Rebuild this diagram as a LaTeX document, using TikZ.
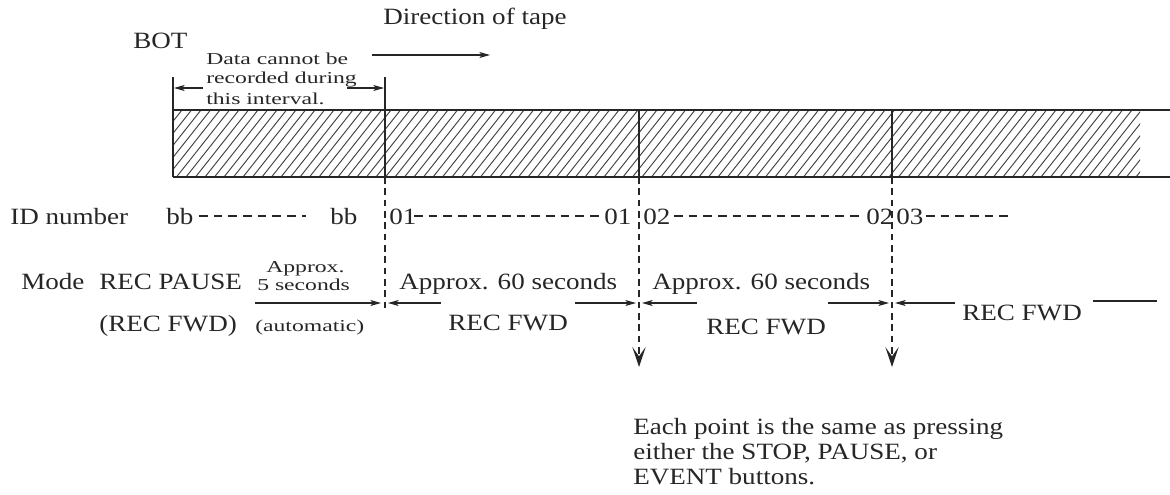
\documentclass[tikz,border=0pt]{standalone}
\usepackage{fontspec}
\setmainfont{Liberation Serif}
\newfontfamily\mainf[FakeStretch=1.16]{Liberation Serif}
\newfontfamily\smallf[FakeStretch=1.42]{Liberation Serif}
\usetikzlibrary{arrows.meta}
\begin{document}
\begin{tikzpicture}[x=0.75pt,y=-0.75pt,
  lbl/.style={inner sep=0pt, text=black!85, font=\mainf\fontsize{17.5}{21}\selectfont},
  sml/.style={inner sep=0pt, text=black!85, font=\smallf\fontsize{12.5}{15}\selectfont},
  arr/.style={draw=black!85, line width=0.8pt, -{Stealth[length=8pt,width=4.5pt,inset=2pt]}},
  plain/.style={draw=black!85, line width=0.8pt},
  tape/.style={draw=black!85, line width=1pt},
  hatch/.style={draw=black!75, line width=0.7pt},
  vdash/.style={draw=black!85, line width=0.8pt, dash pattern=on 5pt off 3.5pt},
  iddash/.style={draw=black!85, line width=0.9pt, dash pattern=on 6.5pt off 4.5pt},
  ptarrow/.style={draw=black!85, line width=0.8pt, dash pattern=on 5pt off 3.5pt, -{Stealth[length=15pt,width=10pt,inset=7pt]}}
]
\useasboundingbox (0,0) rectangle (1170,494);

% --- top annotations
\node[lbl, anchor=base west] (dir) at (383,24) {Direction of tape};
\coordinate (dirA) at (372,55);
\coordinate (dirB) at (490,55);
\draw[arr] (dirA) -- (dirB);
\node[lbl, anchor=base west] (bot) at (133,48) {BOT};
\node[sml, anchor=base west] (nd1) at (206,64) {Data cannot be};
\node[sml, anchor=base west] (nd2) at (206,83) {recorded during};
\node[sml, anchor=base west] (nd3) at (206,104) {this interval.};

% --- tape
\coordinate (tTL) at (173,110);
\coordinate (tTR) at (1170,110);
\coordinate (tBL) at (173,177);
\coordinate (tBR) at (1170,177);
\begin{scope}
  \clip (173,110) rectangle (1140,177);
  \foreach \i in {0,...,110}{
    \draw[hatch] (110+\i*9.5,177) -- (163+\i*9.5,110);
  }
\end{scope}
\draw[tape] (tTL) -- (tTR);
\draw[tape] (tBL) -- (tBR);
\coordinate (bL) at (173,77);
\coordinate (bR) at (385,77);
\coordinate (d1) at (385,177);
\draw[tape] (bL) -- (tBL);
\draw[tape] (bR) -- (d1);
\coordinate (d2t) at (639,110);
\coordinate (d2) at (639,177);
\coordinate (d3t) at (892,110);
\coordinate (d3) at (892,177);
\draw[tape] (d2t) -- (d2);
\draw[tape] (d3t) -- (d3);

% interval arrows
\coordinate (iaL) at (203,88);
\coordinate (iaLt) at (174,88);
\coordinate (iaR) at (347,88);
\coordinate (iaRt) at (384,88);
\draw[arr] (iaL) -- (iaLt);
\draw[arr] (iaR) -- (iaRt);

% --- dashed markers
\coordinate (m1) at (385,312);
\coordinate (m2) at (639,367);
\coordinate (m3) at (892,367);
\draw[vdash] (d1) -- (m1);
\draw[ptarrow] (d2) -- (m2);
\draw[ptarrow] (d3) -- (m3);

% --- ID number row
\node[lbl, anchor=base west] (idlbl) at (10,224) {ID number};
\node[lbl, anchor=base west] (bb1) at (166,224) {bb};
\node[lbl, anchor=base west] (bb2) at (330,224) {bb};
\node[lbl, anchor=base west] (n01a) at (389,224) {01};
\node[lbl, anchor=base west] (n01b) at (604,224) {01};
\node[lbl, anchor=base west] (n02a) at (643,224) {02};
\node[lbl, anchor=base west] (n02b) at (866,224) {02};
\node[lbl, anchor=base west] (n03) at (896,224) {03};
\coordinate (s1) at (199,216); \coordinate (e1) at (306,216);
\coordinate (s2) at (414,216); \coordinate (e2) at (600,216);
\coordinate (s3) at (674,216); \coordinate (e3) at (864,216);
\coordinate (s4) at (926,216); \coordinate (e4) at (1010,216);
\draw[iddash] (s1) -- (e1);
\draw[iddash] (s2) -- (e2);
\draw[iddash] (s3) -- (e3);
\draw[iddash] (s4) -- (e4);

% --- Mode row
\node[lbl, anchor=base west] (mode) at (21,289) {Mode};
\node[lbl, anchor=base west] (recp) at (99,289) {REC PAUSE};
\node[lbl, anchor=base west] (recf0) at (99,331) {(REC FWD)};
\node[sml, anchor=base west] (appr5) at (266,272) {Approx.};
\node[sml, anchor=base west] (sec5) at (257,290) {5 seconds};
\node[sml, anchor=base west] (auto) at (255,331) {(automatic)};
\coordinate (a5s) at (255,303);
\coordinate (a5e) at (381,303);
\draw[arr] (a5s) -- (a5e);

\node[lbl, anchor=base west] (ap60a) at (399,289) {Approx. 60 seconds};
\node[lbl, anchor=base west] (rf1) at (448,330) {REC FWD};
\coordinate (l1s) at (441,303);
\coordinate (l1e) at (388,303);
\coordinate (r1s) at (575,303);
\coordinate (r1e) at (636,303);
\draw[arr] (l1s) -- (l1e);
\draw[arr] (r1s) -- (r1e);

\node[lbl, anchor=base west] (ap60b) at (652,289) {Approx. 60 seconds};
\node[lbl, anchor=base west] (rf2) at (706,334) {REC FWD};
\coordinate (l2s) at (697,303);
\coordinate (l2e) at (642,303);
\coordinate (r2s) at (828,303);
\coordinate (r2e) at (889,303);
\draw[arr] (l2s) -- (l2e);
\draw[arr] (r2s) -- (r2e);

\node[lbl, anchor=base west] (rf3) at (962,320) {REC FWD};
\coordinate (l3s) at (955,303);
\coordinate (l3e) at (895,303);
\draw[arr] (l3s) -- (l3e);
\coordinate (t3s) at (1093,301);
\coordinate (t3e) at (1157,301);
\draw[plain] (t3s) -- (t3e);

% --- note
\node[lbl, anchor=base west] (note1) at (633,434) {Each point is the same as pressing};
\node[lbl, anchor=base west] (note2) at (633,459) {either the STOP, PAUSE, or};
\node[lbl, anchor=base west] (note3) at (633,484) {EVENT buttons.};
\end{tikzpicture}
\end{document}
